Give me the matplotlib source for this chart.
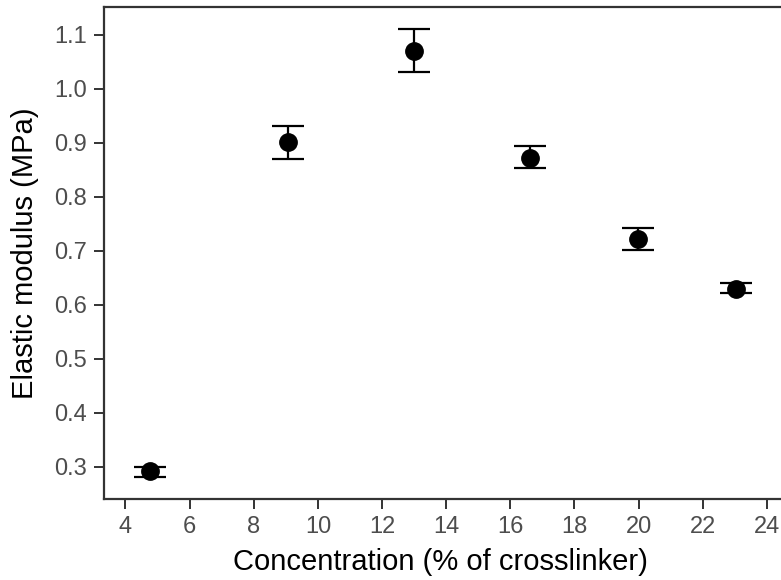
import numpy as np
import matplotlib.pyplot as plt

plt.rcParams['font.family'] = ['Liberation Sans', 'DejaVu Sans']

# crosslinker concentration (%) vs elastic modulus (MPa), mean with error range
conc = [4.75, 9.07, 13.0, 16.6, 19.97, 23.04]
modulus = [0.292, 0.901, 1.070, 0.871, 0.722, 0.629]
err_low = [0.280, 0.870, 1.030, 0.852, 0.701, 0.621]
err_high = [0.300, 0.930, 1.111, 0.893, 0.741, 0.640]

modulus = np.array(modulus)
yerr = [modulus - np.array(err_low), np.array(err_high) - modulus]

fig = plt.figure(figsize=(7.81, 5.80), dpi=100)
W, H = 781, 580
x0, x1 = 104, 799
y0, y1 = 7, 499
ax = fig.add_axes([x0 / W, 1 - y1 / H, (x1 - x0) / W, (y1 - y0) / H])

ax.errorbar(conc, modulus, yerr=yerr, fmt='o', color='black', ms=12.5,
            ecolor='black', elinewidth=1.6, capsize=11.5, capthick=1.6)

ax.set_xlim(3.33, 25.0)
ax.set_ylim(0.240, 1.151)
ax.set_xticks(np.arange(4, 25, 2))
yt = np.round(np.arange(0.3, 1.15, 0.1), 1)
ax.set_yticks(yt)
ax.set_yticklabels([f"{v:.1f}" for v in yt])

for s in ax.spines.values():
    s.set_color('#333333')
    s.set_linewidth(1.6)

ax.tick_params(axis='both', colors='#333333', length=7, width=1.4,
               labelsize=17, labelcolor='#4D4D4D', pad=5)

ax.set_xlabel('Concentration (% of crosslinker)', fontsize=21, color='black',
              va='center')
ax.set_ylabel('Elastic modulus (MPa)', fontsize=21, color='black',
              va='center')
ax.xaxis.set_label_coords((440 - x0) / (x1 - x0), -(562 - y1) / (y1 - y0))
ax.yaxis.set_label_coords(-(x0 - 25) / (x1 - x0), 0.5)

fig.savefig('out.png', dpi=100)
